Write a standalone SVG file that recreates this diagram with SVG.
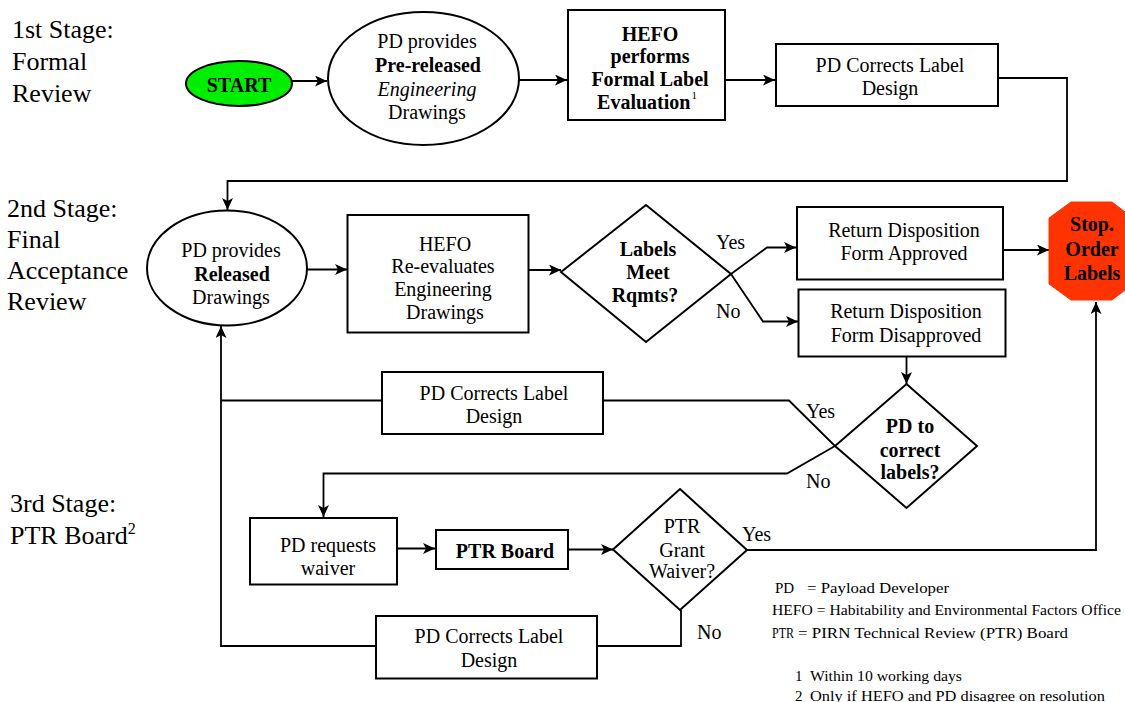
<svg xmlns="http://www.w3.org/2000/svg" width="1125" height="702" viewBox="0 0 1125 702">
<style>
text{font-family:"Liberation Serif","Times New Roman",serif;fill:#000}
.t{font-size:20px;text-anchor:middle}
.b{font-weight:bold}
.st{font-size:26px}
.lg{font-size:15px}
.lab{font-size:20px}
.box{fill:#fff;stroke:#000;stroke-width:2}
.cn{fill:none;stroke:#000;stroke-width:1.8}
</style>
<defs>
<marker id="ah" markerWidth="12" markerHeight="11" refX="12" refY="5.5" orient="auto" markerUnits="userSpaceOnUse">
<path d="M0,0 L12,5.5 L0,11 L3,5.5 z" fill="#000"/>
</marker>
</defs>
<rect width="1125" height="702" fill="#fff"/>

<g id="stage-labels">
<text class="st" x="12" y="38">1st Stage:</text>
<text class="st" x="12" y="70">Formal</text>
<text class="st" x="12" y="102">Review</text>
<text class="st" x="7" y="217">2nd Stage:</text>
<text class="st" x="7" y="248">Final</text>
<text class="st" x="7" y="279">Acceptance</text>
<text class="st" x="7" y="310">Review</text>
<text class="st" x="10" y="512">3rd Stage:</text>
<text class="st" x="10" y="544">PTR Board<tspan font-size="16" dy="-10">2</tspan></text>
</g>

<g id="connectors">
<path class="cn" d="M292,81 L327,81" marker-end="url(#ah)"/>
<path class="cn" d="M519,80 L567,80" marker-end="url(#ah)"/>
<path class="cn" d="M725,80 L775,80" marker-end="url(#ah)"/>
<path class="cn" d="M998,78 L1067,78 L1067,181 L227.5,181 L227.5,210" marker-end="url(#ah)"/>
<path class="cn" d="M307,269.5 L347,269.5" marker-end="url(#ah)"/>
<path class="cn" d="M528,270 L561,270" marker-end="url(#ah)"/>
<path class="cn" d="M731,274 L767,247.5 L796,247.5" marker-end="url(#ah)"/>
<path class="cn" d="M731,274 L763,321.5 L798,321.5" marker-end="url(#ah)"/>
<path class="cn" d="M1003,250 L1049,250" marker-end="url(#ah)"/>
<path class="cn" d="M906.5,357 L906.5,384" marker-end="url(#ah)"/>
<path class="cn" d="M835,446 L789,400.5 L603,400.5"/>
<path class="cn" d="M382,400.5 L221,400.5"/>
<path class="cn" d="M835,446 L787,473.5 L323.5,473.5 L323.5,517" marker-end="url(#ah)"/>
<path class="cn" d="M397,548.5 L435,548.5" marker-end="url(#ah)"/>
<path class="cn" d="M568,549.5 L613,549.5" marker-end="url(#ah)"/>
<path class="cn" d="M747,550 L1096,550 L1096,302" marker-end="url(#ah)"/>
<path class="cn" d="M681,610 L681,646 L597,646"/>
<path class="cn" d="M376,646 L221,646 L221,326" marker-end="url(#ah)"/>
</g>

<g id="edge-labels">
<text class="lab" x="716" y="249">Yes</text>
<text class="lab" x="716" y="318">No</text>
<text class="lab" x="806" y="418">Yes</text>
<text class="lab" x="806" y="488">No</text>
<text class="lab" x="742" y="541">Yes</text>
<text class="lab" x="697" y="639">No</text>
</g>

<g id="start">
<ellipse cx="239" cy="83.5" rx="53" ry="22.5" fill="#00ee00" stroke="#000" stroke-width="2"/>
<text class="t b" x="239" y="91.5">START</text>
</g>

<g id="pd-prereleased">
<ellipse cx="423.5" cy="78.5" rx="95.5" ry="66.5" fill="#fff" stroke="#000" stroke-width="2"/>
<text class="t" x="427" y="48">PD provides</text>
<text class="t b" x="428" y="72">Pre-released</text>
<text class="t" x="427" y="96" font-style="italic">Engineering</text>
<text class="t" x="427" y="119">Drawings</text>
</g>

<g id="hefo-formal">
<rect class="box" x="568" y="10" width="157" height="110"/>
<text class="t b" x="650" y="41">HEFO</text>
<text class="t b" x="650" y="63">performs</text>
<text class="t b" x="650" y="86">Formal Label</text>
<text class="t b" x="647" y="109">Evaluation<tspan font-size="11" font-weight="normal" dx="1" dy="-10">1</tspan></text>
</g>

<g id="pd-corrects-1">
<rect class="box" x="776" y="44" width="222" height="62"/>
<text class="t" x="890" y="72">PD Corrects Label</text>
<text class="t" x="890" y="95">Design</text>
</g>

<g id="pd-released">
<ellipse cx="227" cy="268" rx="80" ry="57.5" fill="#fff" stroke="#000" stroke-width="2"/>
<text class="t" x="231" y="257">PD provides</text>
<text class="t b" x="232" y="281">Released</text>
<text class="t" x="231" y="304">Drawings</text>
</g>

<g id="hefo-reeval">
<rect class="box" x="347.5" y="215" width="181" height="117.5"/>
<text class="t" x="445" y="250.5">HEFO</text>
<text class="t" x="443" y="273">Re-evaluates</text>
<text class="t" x="443" y="296">Engineering</text>
<text class="t" x="445" y="319">Drawings</text>
</g>

<g id="labels-meet">
<polygon points="646,205 731,274 646,342 561,272" fill="#fff" stroke="#000" stroke-width="2"/>
<text class="t b" x="648" y="256">Labels</text>
<text class="t b" x="648" y="279">Meet</text>
<text class="t b" x="645" y="302">Rqmts?</text>
</g>

<g id="approved">
<rect class="box" x="797" y="207" width="206" height="72.5"/>
<text class="t" x="904" y="237">Return Disposition</text>
<text class="t" x="904" y="260">Form Approved</text>
</g>

<g id="disapproved">
<rect class="box" x="798.5" y="289.5" width="207" height="67"/>
<text class="t" x="906" y="318">Return Disposition</text>
<text class="t" x="906" y="342">Form Disapproved</text>
</g>

<g id="stop">
<polygon points="1071,202 1112,202 1133,218 1133,284 1112,300 1071,300 1049,284 1049,218" fill="#ff3300" stroke="#ff3300" stroke-width="1"/>
<text class="t b" x="1092" y="231">Stop.</text>
<text class="t b" x="1092" y="256">Order</text>
<text class="t b" x="1092" y="280">Labels</text>
</g>

<g id="pd-corrects-2">
<rect class="box" x="382" y="372" width="221" height="62"/>
<text class="t" x="494" y="400">PD Corrects Label</text>
<text class="t" x="494" y="423">Design</text>
</g>

<g id="pd-to-correct">
<polygon points="906.5,384 977,446 906.5,508 835,446" fill="#fff" stroke="#000" stroke-width="2"/>
<text class="t b" x="910" y="433">PD to</text>
<text class="t b" x="910" y="457">correct</text>
<text class="t b" x="910" y="479">labels?</text>
</g>

<g id="pd-requests">
<rect class="box" x="250" y="518" width="147" height="66.5"/>
<text class="t" x="328" y="552">PD requests</text>
<text class="t" x="328" y="575">waiver</text>
</g>

<g id="ptr-board">
<rect class="box" x="436" y="530" width="132" height="39"/>
<text class="t b" x="505" y="558">PTR Board</text>
</g>

<g id="ptr-grant">
<polygon points="680,489 747,550 680,610 613,549.5" fill="#fff" stroke="#000" stroke-width="2"/>
<text class="t" x="682" y="533">PTR</text>
<text class="t" x="682" y="557">Grant</text>
<text class="t" x="682" y="578">Waiver?</text>
</g>

<g id="pd-corrects-3">
<rect class="box" x="376" y="616" width="221" height="62.5"/>
<text class="t" x="489" y="643">PD Corrects Label</text>
<text class="t" x="489" y="667">Design</text>
</g>

<g id="legend">
<text class="lg" x="775" y="593">PD</text>
<text class="lg" x="807" y="593" textLength="142" lengthAdjust="spacingAndGlyphs">= Payload Developer</text>
<text class="lg" x="772" y="615" textLength="349" lengthAdjust="spacingAndGlyphs">HEFO = Habitability and Environmental Factors Office</text>
<text class="lg" x="772" y="638" textLength="22" lengthAdjust="spacingAndGlyphs">PTR</text>
<text class="lg" x="798" y="638" textLength="270" lengthAdjust="spacingAndGlyphs">= PIRN Technical Review (PTR) Board</text>
<text class="lg" x="795" y="681">1</text>
<text class="lg" x="810" y="681" textLength="152" lengthAdjust="spacingAndGlyphs">Within 10 working days</text>
<text class="lg" x="795" y="701">2</text>
<text class="lg" x="810" y="701" textLength="295" lengthAdjust="spacingAndGlyphs">Only if HEFO and PD disagree on resolution</text>
</g>
</svg>
